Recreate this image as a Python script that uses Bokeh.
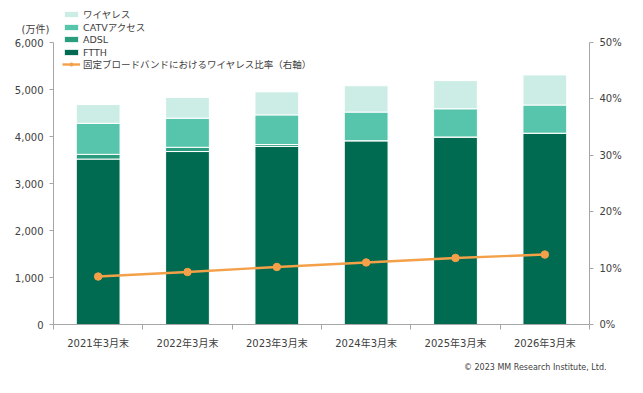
from bokeh.plotting import figure
from bokeh.models import (Range1d, LinearAxis, FixedTicker, NumeralTickFormatter,
                          Legend, LegendItem, Label, ColumnDataSource)
from bokeh.embed import file_html
from bokeh.resources import INLINE

categories = ["2021年3月末", "2022年3月末", "2023年3月末", "2024年3月末", "2025年3月末", "2026年3月末"]
ftth = [3520, 3680, 3790, 3910, 3990, 4070]
adsl = [100, 90, 40, 0, 0, 0]
catv = [660, 620, 630, 610, 600, 600]
wireless = [400, 440, 490, 560, 600, 640]
wireless_ratio = [0.085, 0.093, 0.102, 0.110, 0.118, 0.124]
left_ticks = [0, 1000, 2000, 3000, 4000, 5000, 6000]
right_ticks = [0, 0.1, 0.2, 0.3, 0.4, 0.5]
legend_labels = ["ワイヤレス", "CATVアクセス", "ADSL", "FTTH", "固定ブロードバンドにおけるワイヤレス比率（右軸）"]

FONT = "DejaVu Sans, Noto Sans CJK JP"
TXT = "#404040"
AX = "#A6A6A6"
colors = {"FTTH": "#006B50", "ADSL": "#2A9D7E", "CATV": "#57C5AB", "WL": "#CCEDE5"}
ORANGE = "#F4A049"

W, H = 643, 393
# plot box in pixels (axes drawn at fixed locations so the frame can fill the canvas)
BL, BR, BT, BB = 53, 589, 42, 324
n = len(categories)
ymax, pmax = left_ticks[-1], right_ticks[-1]
xs = (BR - BL) / n
ys = (BB - BT) / ymax
ps = (BB - BT) / pmax
x_range = Range1d(-BL / xs, n + (W - BR) / xs)
y_range = Range1d(-(H - BB) / ys, ymax + BT / ys)
p_range = Range1d(-(H - BB) / ps, pmax + BT / ps)

x = [i + 0.5 for i in range(n)]
src = ColumnDataSource(dict(x=x, FTTH=ftth, ADSL=adsl, CATV=catv, WL=wireless, ratio=wireless_ratio))

p = figure(width=W, height=H, x_range=x_range, y_range=y_range,
           output_backend="svg", toolbar_location=None,
           min_border_left=0, min_border_right=0, min_border_top=0, min_border_bottom=0)
p.extra_y_ranges = {"pct": p_range}
p.outline_line_color = None
p.xgrid.visible = False
p.ygrid.visible = False
p.background_fill_color = "white"
p.border_fill_color = "white"

stack = ["FTTH", "ADSL", "CATV", "WL"]
bars = p.vbar_stack(stack, x="x", width=0.49, source=src,
                    color=[colors[s] for s in stack], line_color="white", line_width=1)
ln = p.line("x", "ratio", source=src, y_range_name="pct", line_color=ORANGE, line_width=2.4)
mk = p.scatter("x", "ratio", source=src, y_range_name="pct", size=7.5,
               fill_color=ORANGE, line_color=ORANGE)

def style_axis(a):
    a.axis_line_color = AX
    a.major_label_text_color = TXT
    a.major_label_text_font = FONT
    a.major_label_text_font_size = "10px"

# left axis
ya = p.yaxis[0]
ya.ticker = FixedTicker(ticks=left_ticks)
ya.formatter = NumeralTickFormatter(format="0,0")
ya.minor_tick_line_color = None
ya.major_tick_in = 0
ya.major_tick_out = 4
ya.major_tick_line_color = AX
ya.major_label_standoff = 6
ya.bounds = (0, ymax)
ya.fixed_location = 0
style_axis(ya)

# right axis
ra = LinearAxis(y_range_name="pct", ticker=FixedTicker(ticks=right_ticks),
                formatter=NumeralTickFormatter(format="0%"))
ra.minor_tick_line_color = None
ra.major_tick_in = 0
ra.major_tick_out = 4
ra.major_tick_line_color = AX
ra.major_label_standoff = 6
ra.bounds = (0, pmax)
ra.fixed_location = n
style_axis(ra)
p.add_layout(ra, "right")

# bottom axis
xa = p.xaxis[0]
xa.ticker = FixedTicker(ticks=x, minor_ticks=list(range(n + 1)))
xa.major_label_overrides = {xi: c for xi, c in zip(x, categories)}
xa.major_tick_line_color = None
xa.major_tick_out = 0
xa.minor_tick_in = 0
xa.minor_tick_out = 5
xa.minor_tick_line_color = AX
xa.major_label_standoff = 8
xa.bounds = (0, n)
xa.fixed_location = 0
style_axis(xa)

# legend: one row per Legend so the row pitch can match the reference
legend_renderers = [[bars[3]], [bars[2]], [bars[1]], [bars[0]], [ln, mk]]
row_centers = [14, 27, 39, 52, 63.5]
for lab, rends, yc in zip(legend_labels, legend_renderers, row_centers):
    lg = Legend(items=[LegendItem(label=lab, renderers=rends)], location=(62, H - yc - 7))
    lg.label_text_font = FONT
    lg.label_text_font_size = "9.5px"
    lg.label_text_color = TXT
    lg.glyph_width = 18
    lg.glyph_height = 8
    lg.label_height = 14
    lg.label_standoff = 3
    lg.spacing = 0
    lg.padding = 0
    lg.margin = 0
    lg.border_line_color = None
    lg.background_fill_alpha = 0
    p.add_layout(lg, "center")

p.add_layout(Label(x=35, y=H - 29, x_units="screen", y_units="screen", text="(万件)",
                   text_align="center", text_baseline="middle",
                   text_font=FONT, text_font_size="10px", text_color=TXT))
p.add_layout(Label(x=606, y=H - 367, x_units="screen", y_units="screen",
                   text="© 2023 MM Research Institute, Ltd.", text_align="right",
                   text_baseline="middle", text_font=FONT, text_font_size="8px", text_color=TXT))

open("out.html", "w").write(file_html(p, INLINE))
